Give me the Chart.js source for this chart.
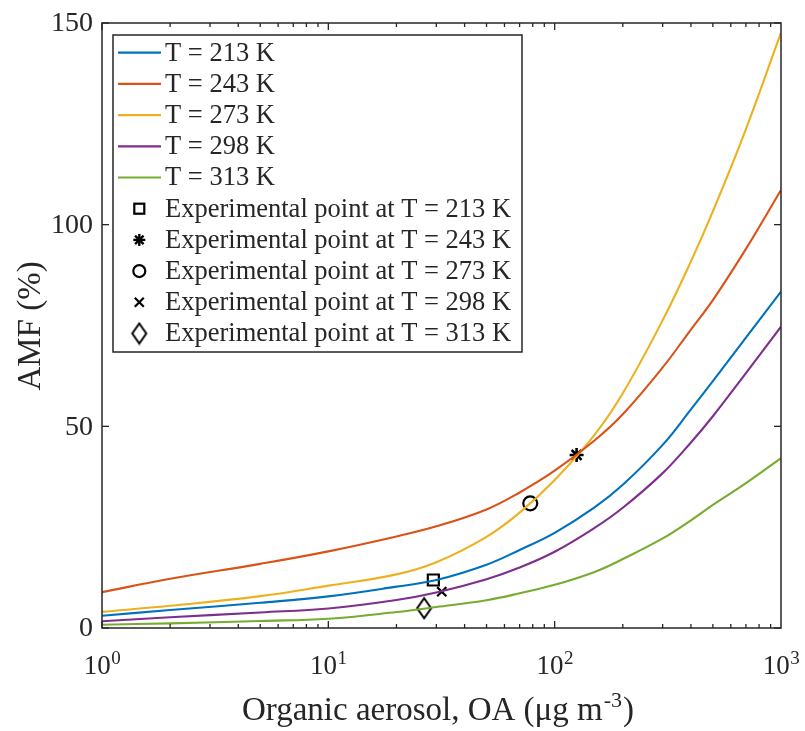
<!DOCTYPE html>
<html><head><meta charset="utf-8">
<script src="https://cdn.jsdelivr.net/npm/chart.js@4/dist/chart.umd.min.js"></script>
<style>html,body{margin:0;padding:0;background:#fff}#wrap{width:805px;height:731px;position:relative}</style>
</head><body><div id="wrap"><canvas id="c"></canvas></div>
<script>
// ---- data ----
const oaValues = [1, 2, 5, 10, 20, 30, 50, 70, 100, 150, 200, 300, 400, 500, 700, 1000];
const amf213 = [3.05, 4.45, 6.25, 7.85, 10.25, 11.9, 15.7, 19.35, 23.6, 29.9, 35.5, 45.4, 54.2, 61.2, 72.0, 83.4];
const amf243 = [8.9, 12.2, 15.9, 19.0, 22.7, 25.2, 29.4, 33.6, 39.0, 46.5, 53.0, 64.6, 74.0, 81.3, 94.0, 108.6];
const amf273 = [4.0, 5.5, 7.9, 10.5, 13.3, 16.3, 22.6, 28.6, 36.7, 47.9, 58.2, 76.3, 90.9, 103.3, 123.7, 147.6];
const amf298 = [1.66, 2.65, 3.85, 4.84, 6.95, 8.8, 12.1, 15.0, 18.9, 24.8, 29.8, 38.4, 46.0, 52.5, 63.2, 74.7];
const amf313 = [0.82, 1.15, 1.75, 2.3, 3.95, 5.2, 6.9, 8.6, 10.7, 13.9, 17.1, 22.2, 26.7, 30.5, 35.9, 42.1];
const lineLabels = ['T = 213 K', 'T = 243 K', 'T = 273 K', 'T = 298 K', 'T = 313 K'];
const expOA = [29.1, 125, 78, 31.7, 26.5];
const expAMF = [11.9, 42.9, 30.9, 9.0, 4.9];
const expLabels = ['Experimental point at T = 213 K', 'Experimental point at T = 243 K',
  'Experimental point at T = 273 K', 'Experimental point at T = 298 K', 'Experimental point at T = 313 K'];
const yTickValues = [0, 50, 100, 150];
const yTickLabels = ['0', '50', '100', '150'];
const xMajorTicks = [1, 10, 100, 1000];
const xTickBase = ['10', '10', '10', '10'];
const xTickExp = ['0', '1', '2', '3'];
const xTitle = 'Organic aerosol, OA (μg m';
const xTitleSup = '-3';
const yTitle = 'AMF (%)';

// ---- styles ----
const lineColors = ['#0072BD', '#D95319', '#EDB120', '#7E2F8E', '#77AC30'];
const FONT = "'Liberation Serif', 'Times New Roman', serif";
const TXT = '#262626';

// diamond marker (taller than wide, like MATLAB)
const diamond = document.createElement('canvas');
diamond.width = 18; diamond.height = 24;
(function () {
  const g = diamond.getContext('2d');
  g.strokeStyle = '#000'; g.lineWidth = 2;
  g.beginPath(); g.moveTo(9, 2); g.lineTo(16, 12); g.lineTo(9, 22); g.lineTo(2, 12); g.closePath(); g.stroke();
})();
const markerStyles = ['rect', 'star', 'circle', 'crossRot', diamond];
const markerRadius = [7.8, 7, 7, 6.5, 8];

const seriesArrays = [amf213, amf243, amf273, amf298, amf313];
const datasets = [];
seriesArrays.forEach((arr, i) => {
  datasets.push({
    type: 'line', label: lineLabels[i],
    data: oaValues.map((v, j) => ({ x: v, y: arr[j] })),
    borderColor: lineColors[i], backgroundColor: lineColors[i],
    borderWidth: 2.1, pointRadius: 0, fill: false, tension: 0.4
  });
});
expOA.forEach((v, i) => {
  datasets.push({
    type: 'line', label: expLabels[i], showLine: false,
    data: [{ x: v, y: expAMF[i] }],
    pointStyle: markerStyles[i], pointRadius: markerRadius[i],
    borderColor: '#000', backgroundColor: 'rgba(0,0,0,0)', pointBorderWidth: i === 1 ? 2.6 : 2.2
  });
});

function seg(ctx, x1, y1, x2, y2) { ctx.beginPath(); ctx.moveTo(x1, y1); ctx.lineTo(x2, y2); ctx.stroke(); }

function legendMarker(ctx, style, cx, cy) {
  ctx.save(); ctx.strokeStyle = '#000'; ctx.lineWidth = 2.2;
  if (style === 'rect') { ctx.strokeRect(cx - 5, cy - 5, 10, 10); }
  else if (style === 'star') {
    const r = 6; ctx.lineWidth = 2.4;
    for (let k = 0; k < 4; k++) { const a = k * Math.PI / 4; seg(ctx, cx - r * Math.cos(a), cy - r * Math.sin(a), cx + r * Math.cos(a), cy + r * Math.sin(a)); }
  } else if (style === 'circle') { ctx.beginPath(); ctx.arc(cx, cy, 6, 0, Math.PI * 2); ctx.stroke(); }
  else if (style === 'crossRot') { const r = 4.5; seg(ctx, cx - r, cy - r, cx + r, cy + r); seg(ctx, cx - r, cy + r, cx + r, cy - r); }
  else { ctx.drawImage(style, cx - style.width / 2, cy - style.height / 2); }
  ctx.restore();
}

const matlabAxes = {
  id: 'matlabAxes',
  afterDatasetsDraw(chart) {
    const { ctx, chartArea: a, scales: { x, y } } = chart;
    ctx.save();
    ctx.strokeStyle = '#262626'; ctx.lineWidth = 1.5;
    ctx.strokeRect(a.left, a.top, a.right - a.left, a.bottom - a.top);
    ctx.lineWidth = 1.3;
    // y ticks
    yTickValues.forEach(v => {
      const py = y.getPixelForValue(v);
      seg(ctx, a.left, py, a.left + 7, py);
      seg(ctx, a.right, py, a.right - 7, py);
    });
    // x ticks (major + minor)
    for (let d = 0; d < 3; d++) {
      for (let m = 1; m <= 9; m++) {
        const v = m * Math.pow(10, d);
        const px = x.getPixelForValue(v);
        const len = m === 1 ? 7 : 4;
        seg(ctx, px, a.bottom, px, a.bottom - len);
        seg(ctx, px, a.top, px, a.top + len);
      }
    }
    // tick labels
    ctx.fillStyle = TXT;
    ctx.font = '28px ' + FONT; ctx.textAlign = 'right'; ctx.textBaseline = 'middle';
    yTickValues.forEach((v, i) => ctx.fillText(yTickLabels[i], a.left - 9, y.getPixelForValue(v) + 1));
    ctx.textBaseline = 'alphabetic'; ctx.textAlign = 'left';
    xMajorTicks.forEach((v, i) => {
      const px = x.getPixelForValue(v);
      ctx.font = '27px ' + FONT; const wb = ctx.measureText(xTickBase[i]).width;
      ctx.font = '19px ' + FONT; const ws = ctx.measureText(xTickExp[i]).width;
      const sx = px - (wb + ws) / 2;
      ctx.font = '27px ' + FONT; ctx.fillText(xTickBase[i], sx, a.bottom + 46);
      ctx.font = '19px ' + FONT; ctx.fillText(xTickExp[i], sx + wb + 0.5, a.bottom + 36);
    });
    // x title
    ctx.font = '33px ' + FONT; const w1 = ctx.measureText(xTitle).width; const w3 = ctx.measureText(')').width;
    ctx.font = '22px ' + FONT; const w2 = ctx.measureText(xTitleSup).width;
    let tx = 437 - (w1 + w2 + w3) / 2;
    const tb = 720;
    ctx.font = '33px ' + FONT; ctx.fillText(xTitle, tx, tb);
    ctx.font = '22px ' + FONT; ctx.fillText(xTitleSup, tx + w1 + 1, tb - 13);
    ctx.font = '33px ' + FONT; ctx.fillText(')', tx + w1 + w2 + 2, tb);
    // y title
    ctx.save(); ctx.translate(40, 326); ctx.rotate(-Math.PI / 2);
    ctx.textAlign = 'center'; ctx.font = '33px ' + FONT; ctx.fillText(yTitle, 0, 0);
    ctx.restore();
    ctx.restore();
  },
  afterDraw(chart) {
    const { ctx } = chart;
    ctx.save();
    // legend box
    ctx.fillStyle = '#fff'; ctx.fillRect(113, 35, 409, 317);
    ctx.strokeStyle = '#262626'; ctx.lineWidth = 1.5; ctx.strokeRect(113, 35, 409, 317);
    ctx.font = '26.5px ' + FONT; ctx.textBaseline = 'middle'; ctx.textAlign = 'left';
    chart.data.datasets.forEach((ds, i) => {
      const cy = 52.7 + 31.2 * i;
      if (ds.showLine === false) {
        legendMarker(ctx, ds.pointStyle, 139.3, cy);
      } else {
        ctx.strokeStyle = ds.borderColor; ctx.lineWidth = 2.2; seg(ctx, 118, cy, 161, cy);
      }
      ctx.fillStyle = TXT; ctx.fillText(ds.label, 165, cy + 1);
    });
    ctx.restore();
  }
};

new Chart(document.getElementById('c'), {
  type: 'line',
  data: { datasets },
  options: {
    responsive: true, maintainAspectRatio: false, animation: false,
    layout: { padding: { left: 0, right: 24, top: 23, bottom: 0 } },
    plugins: { legend: { display: false }, tooltip: { enabled: false } },
    scales: {
      x: { type: 'logarithmic', min: 1, max: 1000, ticks: { display: false }, grid: { display: false }, border: { display: false },
           afterFit(s) { s.height = 103; } },
      y: { type: 'linear', min: 0, max: 150, ticks: { display: false }, grid: { display: false }, border: { display: false },
           afterFit(s) { s.width = 102; } }
    }
  },
  plugins: [matlabAxes]
});
</script></body></html>
